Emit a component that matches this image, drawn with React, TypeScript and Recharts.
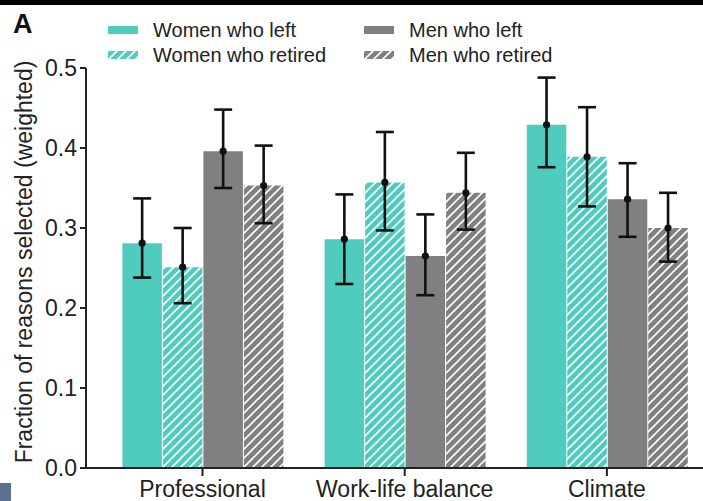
import React from "react";
import { BarChart, Bar, XAxis, YAxis, ErrorBar, Legend, Label } from "recharts";

const categories = ["Professional", "Work-life balance", "Climate"];
const seriesNames = ["Women who left", "Women who retired", "Men who left", "Men who retired"];

const womenLeft = [0.281, 0.286, 0.429];
const womenLeftLow = [0.238, 0.23, 0.376];
const womenLeftHigh = [0.337, 0.342, 0.488];

const womenRetired = [0.251, 0.357, 0.389];
const womenRetiredLow = [0.206, 0.297, 0.327];
const womenRetiredHigh = [0.3, 0.42, 0.451];

const menLeft = [0.396, 0.265, 0.336];
const menLeftLow = [0.35, 0.216, 0.289];
const menLeftHigh = [0.448, 0.317, 0.381];

const menRetired = [0.353, 0.344, 0.3];
const menRetiredLow = [0.306, 0.298, 0.258];
const menRetiredHigh = [0.403, 0.394, 0.344];

const yTicks = [0, 0.1, 0.2, 0.3, 0.4, 0.5];

const teal = "#50ccbf";
const gray = "#808080";
const ink = "#222";
const font = "'Liberation Sans', Arial, sans-serif";

const err = (v: number[], lo: number[], hi: number[], i: number) => [v[i] - lo[i], hi[i] - v[i]];

const data = categories.map((category, i) => ({
  category,
  womenLeft: womenLeft[i],
  womenLeftErr: err(womenLeft, womenLeftLow, womenLeftHigh, i),
  womenRetired: womenRetired[i],
  womenRetiredErr: err(womenRetired, womenRetiredLow, womenRetiredHigh, i),
  menLeft: menLeft[i],
  menLeftErr: err(menLeft, menLeftLow, menLeftHigh, i),
  menRetired: menRetired[i],
  menRetiredErr: err(menRetired, menRetiredLow, menRetiredHigh, i),
}));

function MeanDot(p: any) {
  return <circle cx={p.x + p.width / 2} cy={p.y} r={3.6} fill="#111" />;
}

function LegendBox({ payload }: any) {
  if (!payload) return null;
  const items = [...payload].sort(
    (a: any, b: any) => seriesNames.indexOf(a.value) - seriesNames.indexOf(b.value)
  );
  return (
    <div style={{ position: "relative", width: 703, height: 70, fontFamily: font }}>
      {items.map((e: any, i: number) => {
        const col = Math.floor(i / 2);
        const row = i % 2;
        const left = col === 0 ? 108 : 364;
        const top = row === 0 ? 18 : 43;
        return (
          <div key={e.value} style={{ position: "absolute", left, top, display: "flex", alignItems: "center" }}>
            <svg width={30} height={8} style={{ marginRight: 15 }}>
              <rect width={30} height={8} fill={e.payload?.fill ?? e.color} />
            </svg>
            <span style={{ fontSize: 20, color: ink, lineHeight: "24px" }}>{e.value}</span>
          </div>
        );
      })}
    </div>
  );
}

function YTitle({ viewBox }: any) {
  const cy = viewBox.y + viewBox.height / 2 - 6;
  return (
    <text
      transform={`translate(24, ${cy}) rotate(-90)`}
      textAnchor="middle"
      dominantBaseline="central"
      fontSize={23}
      fill={ink}
      fontFamily={font}
    >
      Fraction of reasons selected (weighted)
    </text>
  );
}

export default function App() {
  const tickStyle = { fill: ink, fontSize: 23, fontFamily: font };
  const axisLine = { stroke: ink, strokeWidth: 2 };
  return (
    <div
      style={{
        position: "fixed",
        left: 0,
        top: 0,
        width: 703,
        height: 501,
        overflow: "hidden",
        background: "#fff",
        fontFamily: font,
      }}
    >
      <div style={{ position: "absolute", left: 0, top: 0, width: 703, height: 5, background: "#000", zIndex: 2 }} />
      <div
        style={{
          position: "absolute",
          left: 13,
          top: 9,
          fontSize: 27,
          fontWeight: 700,
          color: "#111",
          zIndex: 2,
        }}
      >
        A
      </div>
      <BarChart
        width={708}
        height={501}
        data={data}
        margin={{ top: 68, right: 0, bottom: 0, left: 0 }}
        barSize={39.5}
        barGap={1}
      >
        <defs>
          <pattern id="hatchTeal" patternUnits="userSpaceOnUse" width={9} height={9}>
            <rect width={9} height={9} fill={teal} />
            <path d="M-2,2 l4,-4 M0,9 l9,-9 M7,11 l4,-4" stroke="#fff" strokeWidth={1.6} />
          </pattern>
          <pattern id="hatchGray" patternUnits="userSpaceOnUse" width={9} height={9}>
            <rect width={9} height={9} fill={gray} />
            <path d="M-2,2 l4,-4 M0,9 l9,-9 M7,11 l4,-4" stroke="#fff" strokeWidth={1.6} />
          </pattern>
        </defs>
        <XAxis
          dataKey="category"
          height={33}
          padding={{ left: 15.4, right: 0 }}
          tick={tickStyle}
          tickSize={8}
          tickMargin={5}
          axisLine={axisLine}
          tickLine={axisLine}
          interval={0}
        />
        <YAxis
          domain={[0, 0.5]}
          ticks={yTicks}
          width={86}
          tick={tickStyle}
          tickSize={6}
          tickMargin={3}
          axisLine={axisLine}
          tickLine={axisLine}
          tickFormatter={(v: number) => v.toFixed(1)}
        >
          <Label content={<YTitle />} />
        </YAxis>
        <Legend
          content={<LegendBox />}
          layout="horizontal"
          verticalAlign="middle"
          align="center"
          wrapperStyle={{ top: 0, left: 0, width: 703 }}
        />
        <Bar dataKey="womenLeft" name={seriesNames[0]} fill={teal} isAnimationActive={false} label={<MeanDot />}>
          <ErrorBar dataKey="womenLeftErr" width={9} stroke="#111" strokeWidth={2.6} />
        </Bar>
        <Bar dataKey="womenRetired" name={seriesNames[1]} fill="url(#hatchTeal)" isAnimationActive={false} label={<MeanDot />}>
          <ErrorBar dataKey="womenRetiredErr" width={9} stroke="#111" strokeWidth={2.6} />
        </Bar>
        <Bar dataKey="menLeft" name={seriesNames[2]} fill={gray} isAnimationActive={false} label={<MeanDot />}>
          <ErrorBar dataKey="menLeftErr" width={9} stroke="#111" strokeWidth={2.6} />
        </Bar>
        <Bar dataKey="menRetired" name={seriesNames[3]} fill="url(#hatchGray)" isAnimationActive={false} label={<MeanDot />}>
          <ErrorBar dataKey="menRetiredErr" width={9} stroke="#111" strokeWidth={2.6} />
        </Bar>
      </BarChart>
      <div style={{ position: "absolute", left: 0, top: 483, width: 11, height: 18, background: "#5b7090" }} />
    </div>
  );
}
